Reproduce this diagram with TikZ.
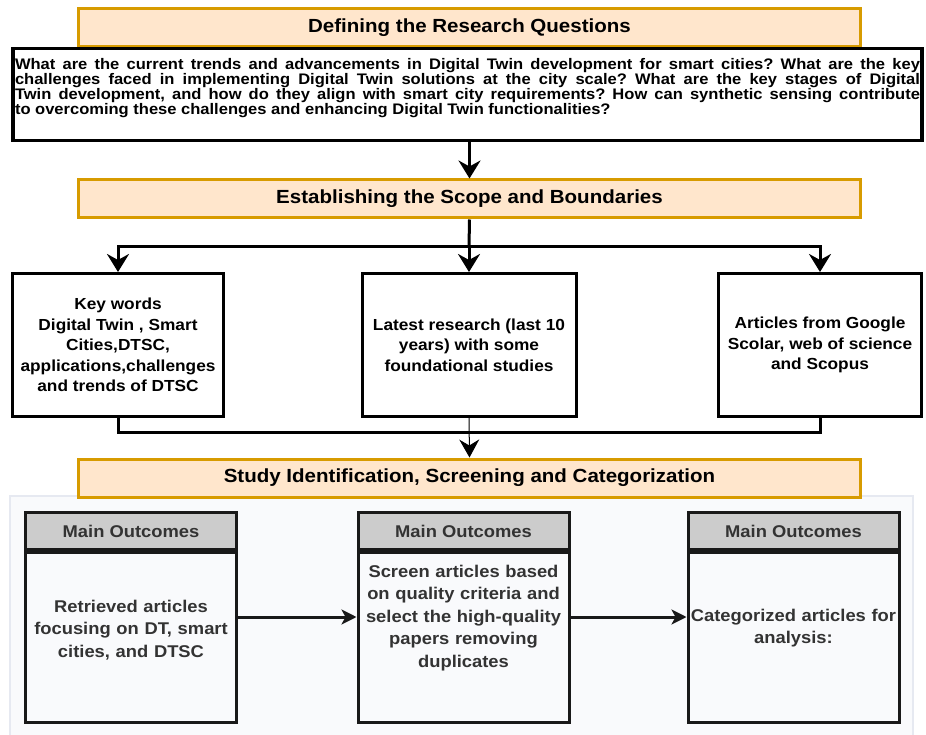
\documentclass[tikz,border=0pt]{standalone}
\usepackage{fontspec}
\setmainfont{Liberation Sans}[FakeStretch=1.08]
\usetikzlibrary{arrows.meta, positioning, backgrounds}
\definecolor{titlefill}{HTML}{FFE6CC}
\definecolor{titleline}{HTML}{D79B00}
\definecolor{panelfill}{HTML}{F9FAFC}
\definecolor{panelline}{HTML}{E6E9F1}
\definecolor{headfill}{HTML}{CCCCCC}
\frenchspacing

\begin{document}
\begin{tikzpicture}[x=1pt, y=-1pt,
    titlebox/.style={rectangle, draw=titleline, fill=titlefill, line width=3pt, minimum width=782pt, minimum height=38pt, font=\fontsize{19}{22}\selectfont\bfseries},
    qbox/.style={rectangle, draw=black, fill=white, line width=3.5pt, inner xsep=2pt, inner ysep=5pt, font=\fontsize{15.3}{15}\selectfont\bfseries},
    box/.style={rectangle, draw=black, fill=white, line width=3pt, minimum height=143pt, align=center, font=\fontsize{16}{20.5}\selectfont\bfseries},
    head/.style={rectangle, draw=black!90, fill=headfill, line width=3pt, minimum width=211pt, minimum height=37pt, text=black!80, font=\fontsize{17}{20}\selectfont\bfseries},
    body/.style={rectangle, draw=black!90, fill=panelfill, line width=3pt, minimum width=211pt, minimum height=170pt, text width=207pt, align=center, inner sep=2pt, text=black!80, font=\fontsize{17}{22.5}\selectfont\bfseries},
    wire/.style={line width=3pt},
    arrow/.style={-{Stealth[length=18pt, width=22pt, inset=6pt]}, line width=3pt},
    thinarrow/.style={-{Stealth[length=18pt, width=20pt, inset=6pt]}, line width=1pt, draw=black},
    flowarrow/.style={-{Stealth[length=15pt, width=15pt, inset=4pt]}, line width=3pt, draw=black!90}
]
\useasboundingbox (0,0) rectangle (926,735);

% Research questions
\node[titlebox] (title1) at (469.5,27.5) {Defining the Research Questions};
\node[qbox] (quest) at (467.5,94.5) {\parbox[c][82pt][t]{905pt}{\vspace*{5pt}What are the current trends and advancements in Digital Twin development for smart cities? What are the key\linebreak challenges faced in implementing Digital Twin solutions at the city scale? What are the key stages of Digital\linebreak Twin development, and how do they align with smart city requirements? How can synthetic sensing contribute\linebreak to overcoming these challenges and enhancing Digital Twin functionalities?}};

% Scope and boundaries
\node[titlebox] (title2) at (469.5,199) {Establishing the Scope and Boundaries};
\node[box, minimum width=211pt] (keywords) at (118,345) {Key words\\Digital Twin , Smart\\Cities,DTSC,\\applications,challenges\\and trends of DTSC};
\node[box, minimum width=214pt] (latest) at (469,345) {Latest research (last 10\\years) with some\\foundational studies};
\node[box, minimum width=203pt] (sources) at (820,345) {Articles from Google\\Scolar, web of science\\and Scopus};

\coordinate (busM) at (469,247);
\coordinate (botM) at (469,432);

% Panel behind the outcomes
\fill[panelfill, draw=panelline, line width=1.5pt] (10,496) rectangle (913,745);

% Identification, screening, categorization
\node[titlebox] (title3) at (469.5,478) {Study Identification, Screening and Categorization};
\node[head] (headA) at (131,531) {Main Outcomes};
\node[head] (headB) at (463.5,531) {Main Outcomes};
\node[head] (headC) at (793.5,531) {Main Outcomes};
\node[body] (bodyA) at (131,637.5) {Retrieved articles\\focusing on DT, smart\\cities, and DTSC\par\vspace*{15pt}};
\node[body] (bodyB) at (463.5,637.5) {Screen articles based\\on quality criteria and\\select the high-quality\\papers removing\\duplicates\par\vspace*{39pt}};
\node[body] (bodyC) at (793.5,637.5) {Categorized articles for\\analysis:\par\vspace*{19pt}};

% Draw arrows
\draw[arrow] (quest.south -| title2) -- (title2.north);
\draw[wire] (title2.south) -- (busM);
\draw[arrow] (busM) -| (keywords.north);
\draw[arrow] (busM) -- (latest.north);
\draw[arrow] (busM) -| (sources.north);

\draw[wire] (keywords.south) |- (botM) -| (sources.south);
\draw[thinarrow] (latest.south) -- (title3.north);

\draw[flowarrow] ([yshift=20.5pt]bodyA.east) -- ([yshift=20.5pt]bodyB.west);
\draw[flowarrow] ([yshift=20.5pt]bodyB.east) -- ([yshift=20.5pt]bodyC.west);

\end{tikzpicture}
\end{document}
